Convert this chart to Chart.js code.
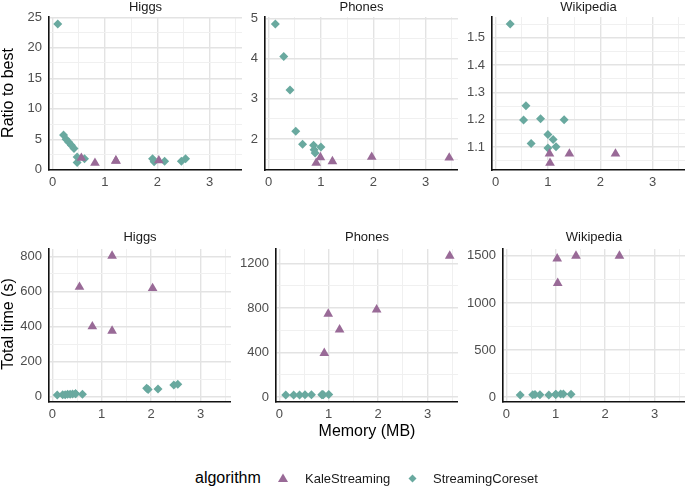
<!DOCTYPE html>
<html>
<head>
<meta charset="utf-8">
<script src="https://cdn.jsdelivr.net/npm/chart.js@4.4.1/dist/chart.umd.min.js"></script>
<style>
    body { margin: 0; background: #fff; font-family: 'Liberation Sans', Arial, sans-serif; }
    #wrap { position: relative; width: 685px; height: 487px; overflow: hidden; }
    #wrap canvas { position: absolute; }
    .lbl { position: absolute; white-space: nowrap; line-height: 1; }
    .axis-title { font-size: 16px; color: #000; }
    .rot { transform: translate(-50%, -50%) rotate(-90deg); }
    .legend-text { font-size: 13px; color: #1a1a1a; }
    .key { position: absolute; }
</style>
</head>
<body>
<div id="wrap">
    <canvas id="p0"></canvas>
    <canvas id="p1"></canvas>
    <canvas id="p2"></canvas>
    <canvas id="p3"></canvas>
    <canvas id="p4"></canvas>
    <canvas id="p5"></canvas>

    <div class="lbl axis-title rot" style="left:8px; top:93px;">Ratio to best</div>
    <div class="lbl axis-title rot" style="left:8px; top:324px;">Total time (s)</div>
    <div class="lbl axis-title" style="left:367px; top:423px; transform:translateX(-50%);">Memory (MB)</div>

    <div class="lbl axis-title" style="left:195px; top:470px;">algorithm</div>
    <svg class="key" style="left:277px; top:472px;" width="12" height="12">
        <polygon points="6,1.5 11,10 1,10" fill="#996a97"/>
    </svg>
    <div class="lbl legend-text" style="left:305px; top:472px;">KaleStreaming</div>
    <svg class="key" style="left:407px; top:473px;" width="11" height="11">
        <polygon points="5.5,1.5 9.5,5.5 5.5,9.5 1.5,5.5" fill="#69a99f"/>
    </svg>
    <div class="lbl legend-text" style="left:433px; top:472px;">StreamingCoreset</div>
</div>

<script>
// ===== DATA =====
const datasetNames = ['Higgs', 'Phones', 'Wikipedia'];
const algorithms = ['KaleStreaming', 'StreamingCoreset'];

// Higgs
const higgsKaleMemory   = [0.55, 0.81, 1.21, 1.21, 2.03];
const higgsKaleRatio    = [1.92, 1.10, 1.50, 1.46, 1.52];
const higgsKaleTime     = [625, 400, 802, 375, 618];
const higgsCoresetMemory = [0.10, 0.21, 0.26, 0.31, 0.36, 0.41, 0.47, 0.47, 0.61, 1.91, 1.94, 2.14, 2.46, 2.54];
const higgsCoresetRatio  = [23.9, 5.7, 5.0, 4.5, 4.0, 3.5, 2.1, 1.2, 1.8, 1.8, 1.3, 1.4, 1.4, 1.8];
const higgsCoresetTime   = [10, 12, 12, 14, 15, 16, 17, 18, 14, 48, 42, 44, 67, 71];

// Phones
const phonesKaleMemory   = [0.91, 0.99, 1.22, 1.97, 3.45];
const phonesKaleRatio    = [1.40, 1.54, 1.44, 1.55, 1.53];
const phonesKaleTime     = [394, 747, 606, 785, 1268];
const phonesCoresetMemory = [0.13, 0.29, 0.41, 0.52, 0.65, 0.86, 0.87, 0.89, 1.00];
const phonesCoresetRatio  = [4.86, 4.05, 3.22, 2.19, 1.87, 1.84, 1.73, 1.65, 1.80];
const phonesCoresetTime   = [18, 19, 19, 20, 20, 21, 22, 21, 22];

// Wikipedia
const wikiKaleMemory   = [1.03, 1.04, 1.41, 2.29];
const wikiKaleRatio    = [1.075, 1.041, 1.075, 1.075];
const wikiKaleTime     = [1471, 1211, 1499, 1499];
const wikiCoresetMemory = [0.28, 0.535, 0.58, 0.68, 0.86, 1.00, 1.00, 1.10, 1.155, 1.31];
const wikiCoresetRatio  = [1.551, 1.199, 1.251, 1.113, 1.203, 1.146, 1.096, 1.127, 1.101, 1.200];
const wikiCoresetTime   = [22, 26, 28, 26, 22, 30, 28, 33, 32, 30];

// Tick labels
const memoryTicks      = [0, 1, 2, 3];
const higgsRatioTicks  = [0, 5, 10, 15, 20, 25];
const phonesRatioTicks = [2, 3, 4, 5];
const wikiRatioTicks   = [1.1, 1.2, 1.3, 1.4, 1.5];
const higgsTimeTicks   = [0, 200, 400, 600, 800];
const phonesTimeTicks  = [0, 400, 800, 1200];
const wikiTimeTicks    = [0, 500, 1000, 1500];

// ===== STYLE =====
const PURPLE = '#996a97';
const TEAL = '#69a99f';
const FONT = "'Liberation Sans', Arial, sans-serif";

Chart.defaults.font.family = FONT;
Chart.defaults.color = '#4d4d4d';

// ===== HELPERS =====
function toPoints(xs, ys) {
    return xs.map((x, i) => ({ x: x, y: ys[i] }));
}

// ggplot style 5% expansion of the data range
function expand(values) {
    const lo = Math.min(...values);
    const hi = Math.max(...values);
    const pad = (hi - lo) * 0.05;
    return [lo - pad, hi + pad];
}

// major ticks plus minor ticks halfway between them
function buildTicks(majors, min, max) {
    const step = majors[1] - majors[0];
    const list = majors.map(v => ({ value: v, minor: false }));
    for (let i = -1; i < majors.length; i++) {
        const v = +(majors[0] + (i + 0.5) * step).toFixed(6);
        if (v >= min && v <= max) list.push({ value: v, minor: true });
    }
    return list.sort((a, b) => a.value - b.value);
}

function gridColor(ctx) {
    return ctx.tick && ctx.tick.minor ? '#f0f0f0' : '#e3e3e3';
}

function gridWidth(ctx) {
    return ctx.tick && ctx.tick.minor ? 1 : 1.4;
}

function axis(majors, range, isX, size) {
    return {
        type: 'linear',
        position: isX ? 'bottom' : 'left',
        min: range[0],
        max: range[1],
        bounds: 'data',
        afterBuildTicks: scale => { scale.ticks = buildTicks(majors, range[0], range[1]); },
        afterFit: scale => {
            if (isX) scale.height = size;
            else scale.width = size;
        },
        grid: { color: gridColor, lineWidth: gridWidth, drawTicks: false },
        border: { display: true, color: '#111', width: 1.6 },
        ticks: {
            autoSkip: false,
            maxRotation: 0,
            padding: isX ? 5 : 7,
            font: { size: 13 },
            color: '#4d4d4d',
            callback: (value, index, ticks) => ticks[index].minor ? '' : String(+value.toFixed(6))
        }
    };
}

// ===== LAYOUT =====
const rows = [
    { canvasTop: 0, plotTop: 17, plotBottom: 170 },
    { canvasTop: 230, plotTop: 249, plotBottom: 402 }
];
const columns = [
    [{ left: 49, right: 242 }, { left: 265, right: 458 }, { left: 492, right: 685 }],
    [{ left: 49, right: 231 }, { left: 276, right: 458 }, { left: 503, right: 685 }]
];
const Y_AXIS_W = 44;
const X_AXIS_H = 26;

// ===== CHARTS =====
const memoryRange = expand([].concat(
    higgsKaleMemory, higgsCoresetMemory, phonesKaleMemory,
    phonesCoresetMemory, wikiKaleMemory, wikiCoresetMemory
));

const panels = [
    { title: datasetNames[0], kale: toPoints(higgsKaleMemory, higgsKaleRatio), core: toPoints(higgsCoresetMemory, higgsCoresetRatio), ticks: higgsRatioTicks },
    { title: datasetNames[1], kale: toPoints(phonesKaleMemory, phonesKaleRatio), core: toPoints(phonesCoresetMemory, phonesCoresetRatio), ticks: phonesRatioTicks },
    { title: datasetNames[2], kale: toPoints(wikiKaleMemory, wikiKaleRatio), core: toPoints(wikiCoresetMemory, wikiCoresetRatio), ticks: wikiRatioTicks },
    { title: datasetNames[0], kale: toPoints(higgsKaleMemory, higgsKaleTime), core: toPoints(higgsCoresetMemory, higgsCoresetTime), ticks: higgsTimeTicks },
    { title: datasetNames[1], kale: toPoints(phonesKaleMemory, phonesKaleTime), core: toPoints(phonesCoresetMemory, phonesCoresetTime), ticks: phonesTimeTicks },
    { title: datasetNames[2], kale: toPoints(wikiKaleMemory, wikiKaleTime), core: toPoints(wikiCoresetMemory, wikiCoresetTime), ticks: wikiTimeTicks }
];

function createPanel(index) {
    const panel = panels[index];
    const row = rows[Math.floor(index / 3)];
    const col = columns[Math.floor(index / 3)][index % 3];

    const canvas = document.getElementById('p' + index);
    const left = col.left - Y_AXIS_W;
    canvas.width = col.right - left;
    canvas.height = row.plotBottom + X_AXIS_H - row.canvasTop;
    canvas.style.left = left + 'px';
    canvas.style.top = row.canvasTop + 'px';

    const titleH = row.plotTop - row.canvasTop;
    const yRange = expand(panel.kale.concat(panel.core).map(p => p.y));

    new Chart(canvas, {
        type: 'scatter',
        data: {
            datasets: [
                {
                    label: algorithms[0],
                    data: panel.kale,
                    pointStyle: 'triangle',
                    pointRadius: 5.6,
                    pointBorderWidth: 0,
                    backgroundColor: PURPLE,
                    clip: false
                },
                {
                    label: algorithms[1],
                    data: panel.core,
                    pointStyle: 'rectRot',
                    pointRadius: 4.5,
                    pointBorderWidth: 0,
                    backgroundColor: TEAL,
                    clip: false
                }
            ]
        },
        options: {
            responsive: false,
            animation: false,
            events: [],
            layout: { padding: 0, autoPadding: false },
            scales: {
                x: axis(memoryTicks, memoryRange, true, X_AXIS_H),
                y: axis(panel.ticks, yRange, false, Y_AXIS_W)
            },
            plugins: {
                legend: { display: false },
                tooltip: { enabled: false },
                title: {
                    display: true,
                    text: panel.title,
                    fullSize: false,
                    color: '#1a1a1a',
                    font: { size: 13, weight: 'normal' },
                    padding: { top: 0, bottom: titleH - 15.6 }
                }
            }
        }
    });
}

panels.forEach((p, i) => createPanel(i));
</script>
</body>
</html>
